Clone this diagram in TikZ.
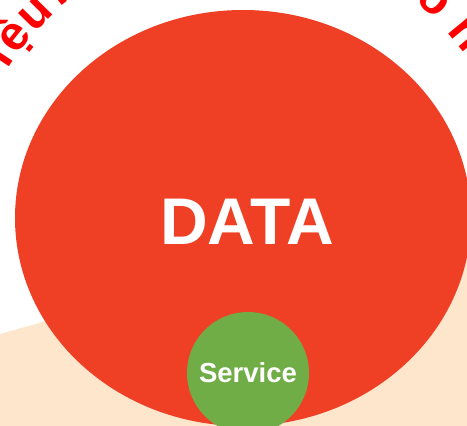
\documentclass[tikz,border=0pt]{standalone}
\usepackage{fontspec}
\setmainfont{Liberation Sans}
\usepackage{tikz}
\usetikzlibrary{shapes}

\definecolor{datared}{RGB}{239,63,36}
\definecolor{servicegreen}{RGB}{112,173,71}
\definecolor{sandbg}{RGB}{253,230,204}
\definecolor{ringred}{RGB}{255,0,0}

\newcommand{\ringfont}{\fontsize{48}{48}\selectfont\bfseries}

\begin{document}
\begin{tikzpicture}[x=1pt, y=1pt]
	\tikzset{blob/.style = {shape=ellipse, inner sep = 0pt}}
	\tikzset{dot/.style = {shape=circle, inner sep = 0pt}}
	\tikzset{bigword/.style = {text=white, font=\fontsize{66}{66}\selectfont\bfseries}}
	\tikzset{smallword/.style = {text=white, font=\fontsize{27.5}{27.5}\selectfont\bfseries}}
	\tikzset{ringletter/.style = {anchor=base, inner sep = 0pt, text=ringred, font=\ringfont}}
	
	\useasboundingbox (0,0) rectangle (467,426);
	
	% background
	\fill[sandbg] (0,92) -- (467,223) -- (467,0) -- (0,0) -- cycle;
	
	% circles
	\node[blob, fill=datared, minimum width=456pt, minimum height=416pt] (data) at (243,208) {};
	\node[bigword] (datatext) at (247,204) {DATA};
	\node[dot, fill=servicegreen, minimum size=122pt, smallword] (service) at (248,53) {Service};
	
	% letters round the top
	\begin{scope}[shift={(data.center)}]
		\foreach \ch/\ang [count=\k] in {i/146.5, ệ/141.5, u/135.5, n/128}
			\node[ringletter, rotate=\ang-90] (left\k) at (\ang:278.5) {\ch};
		\foreach \ch/\ang [count=\k] in {o/48.7, n/39.5}
			\node[ringletter, rotate=\ang-90] (right\k) at (\ang:276) {\ch};
	\end{scope}
	
\end{tikzpicture}
\end{document}
